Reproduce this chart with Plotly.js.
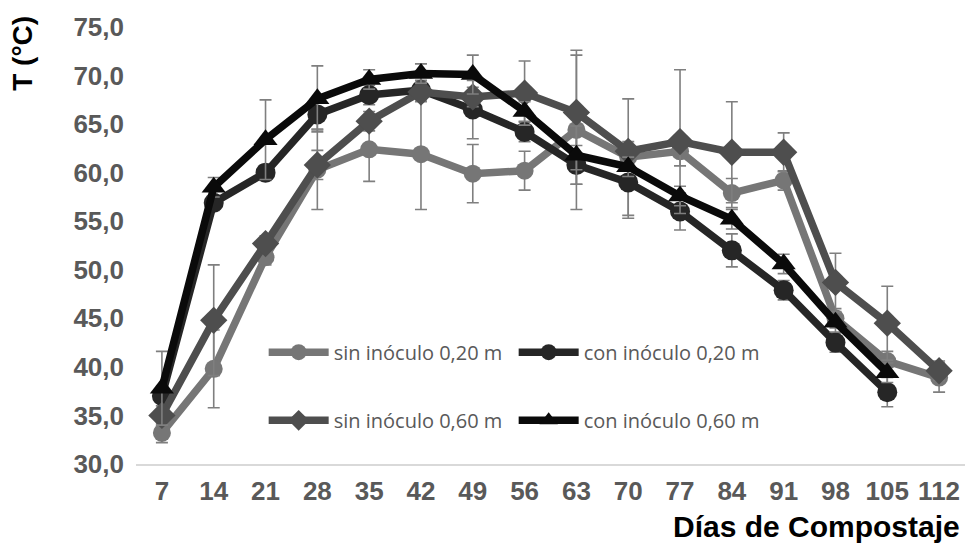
<!DOCTYPE html>
<html>
<head>
<meta charset="utf-8">
<script src="https://cdn.plot.ly/plotly-3.0.1.min.js"></script>
<style>html,body{margin:0;padding:0;background:#fff;}#chart{width:965px;height:545px;}</style>
</head>
<body>
<div id="chart"></div>
<script>
var days = ['7','14','21','28','35','42','49','56','63','70','77','84','91','98','105','112'];

var sin020 = [33.2, 39.8, 51.3, 60.3, 62.4, 61.9, 59.9, 60.2, 64.4, 61.6, 62.2, 57.9, 59.2, 45.0, 40.6, 38.9];
var sin020Err = [1.0, 4.0, 0.8, 4.1, 3.3, 5.7, 3.0, 2.0, 8.2, 6.0, 1.5, 1.5, 1.0, 1.0, 1.0, 1.5];

var con020 = [37.0, 56.9, 60.0, 66.0, 68.0, 68.5, 66.5, 64.2, 60.8, 59.0, 56.0, 52.0, 47.9, 42.5, 37.4, null];
var con020Err = [1.0, 0.8, 0.8, 1.5, 1.0, 1.0, 3.0, 1.0, 2.0, 3.7, 1.9, 1.7, 1.0, 1.0, 1.5, null];

var sin060 = [35.0, 44.8, 52.7, 60.8, 65.3, 68.3, 67.8, 68.2, 66.2, 62.2, 63.2, 62.1, 62.1, 48.7, 44.5, 39.6];
var sin060Err = [1.0, 5.7, 0.8, 1.5, 1.0, 1.0, 1.0, 3.3, 5.9, 1.0, 7.4, 5.2, 2.0, 3.0, 3.8, 1.0];

var con060 = [37.8, 58.5, 63.4, 67.6, 69.6, 70.2, 70.1, 66.3, 61.8, 60.6, 57.6, 55.2, 50.6, 44.6, 39.4, null];
var con060Err = [3.8, 1.0, 4.1, 3.4, 1.0, 1.0, 2.0, 1.0, 3.0, 1.0, 1.0, 1.0, 1.0, 1.0, 1.0, null];

var names = ['sin inóculo 0,20 m', 'con inóculo 0,20 m', 'sin inóculo 0,60 m', 'con inóculo 0,60 m'];
var yTitle = 'T (°C)';
var xTitle = 'Días de Compostaje';

var errColor = '#7f7f7f';
function mk(y, err, name, color, symbol, msize, legend) {
  return {
    x: days, y: y, name: name, type: 'scatter', mode: 'lines+markers',
    line: {color: color, width: 7.5},
    marker: {color: color, symbol: symbol, size: msize},
    error_y: {type: 'data', array: err, visible: true, color: errColor, thickness: 1.6, width: 6},
    legend: legend, connectgaps: false
  };
}

var traces = [
  mk(sin020, sin020Err, names[0], '#767676', 'circle', 18, 'legend'),
  mk(con020, con020Err, names[1], '#262626', 'circle', 20, 'legend'),
  mk(sin060, sin060Err, names[2], '#4e4e4e', 'diamond', 21, 'legend2'),
  mk(con060, con060Err, names[3], '#0a0a0a', 'triangle-up', 21, 'legend2')
];

var legFont = {family: 'Open Sans, sans-serif', size: 20, color: '#595959'};
var layout = {
  width: 965, height: 545,
  margin: {l: 136, r: 0, t: 27, b: 81},
  paper_bgcolor: '#ffffff', plot_bgcolor: '#ffffff',
  separators: ',.',
  showlegend: true,
  xaxis: {
    type: 'category', range: [-0.5, 15.5], showgrid: false, zeroline: false, automargin: false,
    showline: true, linecolor: '#d9d9d9', linewidth: 1.5,
    ticks: '', ticklabelstandoff: 3,
    tickfont: {family: 'Liberation Sans, Arial, sans-serif', size: 26, color: '#595959', weight: 'bold'}
  },
  yaxis: {
    range: [30, 75], dtick: 5, tickformat: '.1f', showgrid: false, zeroline: false, automargin: false,
    showline: false, ticks: '', ticklabelstandoff: 11,
    tickfont: {family: 'Liberation Sans, Arial, sans-serif', size: 26, color: '#595959', weight: 'bold'}
  },
  legend: {
    orientation: 'h', x: 0.154, xanchor: 'left', y: 0.256, yanchor: 'middle',
    font: legFont, bgcolor: 'rgba(0,0,0,0)', itemwidth: 60,
    entrywidth: 175, entrywidthmode: 'pixels', itemclick: false
  },
  legend2: {
    orientation: 'h', x: 0.154, xanchor: 'left', y: 0.1, yanchor: 'middle',
    font: legFont, bgcolor: 'rgba(0,0,0,0)', itemwidth: 60,
    entrywidth: 175, entrywidthmode: 'pixels', itemclick: false
  },
  annotations: [
    {text: yTitle, xref: 'paper', yref: 'paper', x: -0.137, y: 1.03, xanchor: 'center', yanchor: 'top',
     textangle: -90, showarrow: false,
     font: {family: 'Liberation Sans, Arial, sans-serif', size: 28, color: '#000000', weight: 'bold'}},
    {text: xTitle, xref: 'paper', yref: 'paper', x: 0.996, y: -0.1, xanchor: 'right', yanchor: 'top',
     showarrow: false,
     font: {family: 'Liberation Sans, Arial, sans-serif', size: 30, color: '#000000', weight: 'bold'}}
  ]
};

Plotly.newPlot('chart', traces, layout, {staticPlot: true});
</script>
</body>
</html>
